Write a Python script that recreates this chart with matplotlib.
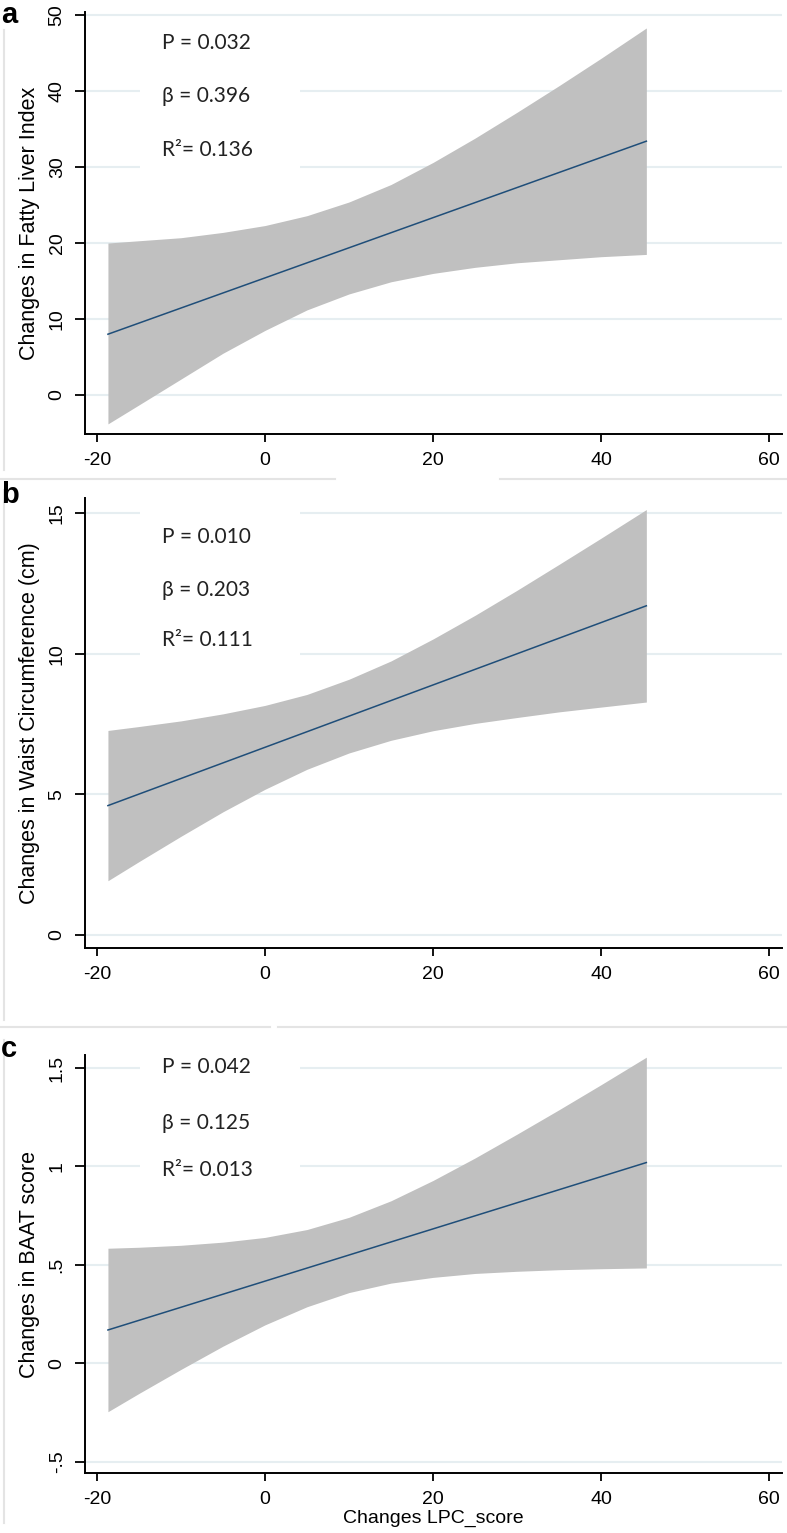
import matplotlib
matplotlib.use("Agg")
import matplotlib.pyplot as plt
from matplotlib.patches import Rectangle
from matplotlib.lines import Line2D

# ------------------------------------------------------------
# Data
# ------------------------------------------------------------
band_x = [-18.7, -15, -10, -5, 0, 5, 10, 15, 20, 25, 30, 35, 40, 45.4]
fit_x = [-18.7, 45.4]

fli_upper = [20.0, 20.3, 20.7, 21.4, 22.3, 23.6, 25.4, 27.7, 30.6, 33.8, 37.2, 40.7, 44.3, 48.3]
fli_lower = [-3.8, -1.3, 2.1, 5.5, 8.5, 11.2, 13.3, 14.9, 16.0, 16.8, 17.4, 17.8, 18.2, 18.5]
fli_fit = [8.0, 33.4]

wc_upper = [7.27, 7.41, 7.61, 7.86, 8.16, 8.55, 9.09, 9.74, 10.52, 11.36, 12.25, 13.17, 14.10, 15.12]
wc_lower = [1.93, 2.61, 3.51, 4.38, 5.18, 5.89, 6.47, 6.92, 7.26, 7.52, 7.73, 7.93, 8.10, 8.28]
wc_fit = [4.60, 11.70]

baat_upper = [0.585, 0.590, 0.600, 0.616, 0.640, 0.680, 0.742, 0.826, 0.929, 1.043, 1.164, 1.288, 1.415, 1.555]
baat_lower = [-0.245, -0.152, -0.030, 0.088, 0.196, 0.288, 0.360, 0.408, 0.437, 0.457, 0.468, 0.476, 0.481, 0.485]
baat_fit = [0.170, 1.020]

panel_letters = ["a", "b", "c"]
ylabels = ["Changes in Fatty Liver Index",
           "Changes in Waist Circumference (cm)",
           "Changes in BAAT score"]
stats = [["P = 0.032", "\u03b2 = 0.396", "R\u00b2= 0.136"],
         ["P = 0.010", "\u03b2 = 0.203", "R\u00b2= 0.111"],
         ["P = 0.042", "\u03b2 = 0.125", "R\u00b2= 0.013"]]
yticks = [[0, 10, 20, 30, 40, 50], [0, 5, 10, 15], [-0.5, 0, 0.5, 1, 1.5]]
yticklabels = [["0", "10", "20", "30", "40", "50"],
               ["0", "5", "10", "15"],
               ["-.5", "0", ".5", "1", "1.5"]]
xticks = [-20, 0, 20, 40, 60]
xlabel = "Changes LPC_score"

# ------------------------------------------------------------
# Layout (pixels of the 787 x 1533 reference)
# ------------------------------------------------------------
W, H = 787, 1533
fig = plt.figure(figsize=(W / 100, H / 100), dpi=100)

def px_axes(left, top, right, bottom):
    return [left / W, 1 - bottom / H, (right - left) / W, (bottom - top) / H]

boxes = [px_axes(85, 12, 782, 434),
         px_axes(85, 498, 782, 948),
         px_axes(85, 1055, 782, 1473)]
ylims = [(-5.13, 50.4), (-0.46, 15.53), (-0.556, 1.566)]
xlim = (-21.43, 61.55)
text_y = [[46.3, 39.4, 32.2], [14.15, 12.26, 10.49], [1.505, 1.221, 0.982]]
white_box = [(49.2, 28.4), (15.4, 9.6), (1.6, 0.93)]
letter_top = [1, 481, 1035]

uppers = [fli_upper, wc_upper, baat_upper]
lowers = [fli_lower, wc_lower, baat_lower]
fits = [fli_fit, wc_fit, baat_fit]

band_col = "#c0c0c0"
line_col = "#1f4e79"
grid_col = "#e6eef1"
tick_font = "Liberation Sans"
stat_font = ["Lato", "Noto Sans", "DejaVu Sans"]

for i in range(3):
    ax = fig.add_axes(boxes[i])
    ax.set_xlim(*xlim)
    ax.set_ylim(*ylims[i])

    for s in ["top", "right"]:
        ax.spines[s].set_visible(False)
    for s in ["left", "bottom"]:
        ax.spines[s].set_linewidth(1.4)
        ax.spines[s].set_color("black")

    ax.set_axisbelow(True)
    ax.yaxis.grid(True, color=grid_col, linewidth=1.5)

    # white patch behind the stats text (breaks the gridlines)
    y0, y1 = white_box[i]
    ax.add_patch(Rectangle((-14.9, y1), 19.1, y0 - y1, facecolor="white",
                           edgecolor="none", zorder=0.8, clip_on=True))

    ax.fill_between(band_x, lowers[i], uppers[i], color=band_col,
                    linewidth=0, zorder=2)
    ax.plot(fit_x, fits[i], color=line_col, linewidth=1.1, zorder=3)

    ax.set_xticks(xticks)
    ax.set_xticklabels([str(v) for v in xticks], fontfamily=tick_font, fontsize=14)
    ax.set_yticks(yticks[i])
    ax.set_yticklabels(yticklabels[i], fontfamily=tick_font, fontsize=14,
                       rotation=90, va="center", ha="center")
    ax.tick_params(axis="y", length=7, width=1.3, pad=13)
    ax.tick_params(axis="x", length=6, width=1.3, pad=7)

    ax.set_ylabel(ylabels[i], fontfamily=tick_font, fontsize=15.5)
    ax.yaxis.set_label_coords(-0.064, 0.5)

    for txt, ty in zip(stats[i], text_y[i]):
        ax.text(-12.3, ty, txt, family=stat_font, fontsize=15,
                va="center", ha="left", color="#222222", zorder=4)

    if i == 2:
        ax.set_xlabel(xlabel, fontfamily=tick_font, fontsize=14, labelpad=1)

    fig.text(1 / W, 1 - letter_top[i] / H, panel_letters[i], fontsize=21,
             fontweight="bold", fontfamily=tick_font, va="top", ha="left")

# faint panel borders from the composed figure
sep_col = "#e4e4e4"
for (xa, xb, yy) in [(0, 335, 479), (500, W, 479), (0, 270, 1027), (278, W, 1027)]:
    fig.add_artist(Line2D([xa / W, xb / W], [1 - yy / H, 1 - yy / H],
                          color=sep_col, linewidth=1.5))
for (ya, yb) in [(30, 470), (490, 1020), (1040, 1523)]:
    fig.add_artist(Line2D([4 / W, 4 / W], [1 - ya / H, 1 - yb / H],
                          color=sep_col, linewidth=1.5))

fig.savefig("out.png", dpi=100)
